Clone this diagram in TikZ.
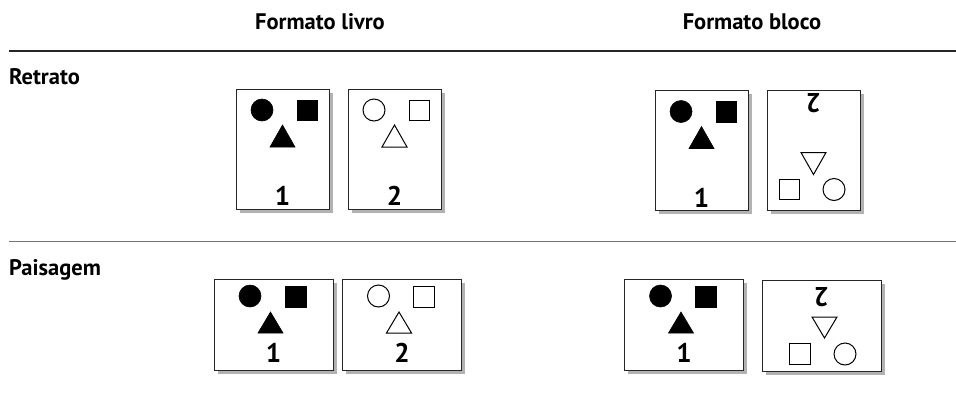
\documentclass[tikz,border=0pt]{standalone}
\usepackage{fontspec}
\setmainfont{PT Sans}
\usetikzlibrary{shadows}
\tikzset{
  pagebox/.style={draw=black!85, line width=0.9pt, fill=white, inner sep=0pt,
    drop shadow={shadow xshift=3.5pt, shadow yshift=-3.5pt, fill=black!30, opacity=1}},
  portrait/.style={pagebox, minimum width=93pt, minimum height=120pt},
  landscape/.style={pagebox, minimum width=119pt, minimum height=91pt},
  hdr/.style={font=\bfseries\fontsize{22.5}{26}\selectfont, inner sep=0pt},
  num/.style={font=\bfseries\fontsize{27}{30}\selectfont, inner sep=0pt},
  solidshape/.style={fill=black, draw=black, line width=0.6pt},
  openshape/.style={draw=black, line width=1pt, fill=white},
}
\newcommand{\portshapes}[2]{%
  \draw[#1] (-20.5,-39) circle[radius=11];
  \draw[#1] (14.5,-49) rectangle (34.5,-28.5);
  \draw[#1] (-12.5,-2) -- (12.5,-2) -- (0,-24) -- cycle;
  \node[num] at (0,47) {#2};
}
\newcommand{\landshapes}[2]{%
  \draw[#1] (-23.5,-28.5) circle[radius=11];
  \draw[#1] (11.5,-38.5) rectangle (32.5,-17.5);
  \draw[#1] (-15.5,8.5) -- (9.5,8.5) -- (-3,-12.5) -- cycle;
  \node[num] at (0,28.5) {#2};
}
\begin{document}
\begin{tikzpicture}[x=1pt,y=-1pt]
\useasboundingbox (0,0) rectangle (956,397);
% headers
\node[hdr] (hlivro) at (320,22) {Formato livro};
\node[hdr] (hbloco) at (752,22) {Formato bloco};
\node[hdr, anchor=west] (retrato) at (9,77) {Retrato};
\node[hdr, anchor=west] (paisagem) at (9,270) {Paisagem};
% rules
\draw[line width=2pt, black!85] (9,51) -- (956,51);
\draw[line width=1.5pt, black!55] (9,241.5) -- (956,241.5);
% portrait pages
\node[portrait] (pl1) at (282.5,149) {};
\node[portrait] (pl2) at (394.5,149) {};
\node[portrait] (pb1) at (701.5,150.5) {};
\node[portrait] (pb2) at (813.5,150.5) {};
% landscape pages
\node[landscape] (ll1) at (273.5,324.5) {};
\node[landscape] (ll2) at (402,324.5) {};
\node[landscape] (lb1) at (684,324.5) {};
\node[landscape] (lb2) at (821.5,325.5) {};
% contents
\begin{scope}[shift={(pl1.center)}]\portshapes{solidshape}{1}\end{scope}
\begin{scope}[shift={(pl2.center)}]\portshapes{openshape}{2}\end{scope}
\begin{scope}[shift={(pb1.center)}]\portshapes{solidshape}{1}\end{scope}
\begin{scope}[shift={(pb2.center)}, rotate=180]\portshapes{openshape}{\rotatebox{180}{2}}\end{scope}
\begin{scope}[shift={(ll1.center)}]\landshapes{solidshape}{1}\end{scope}
\begin{scope}[shift={(ll2.center)}]\landshapes{openshape}{2}\end{scope}
\begin{scope}[shift={(lb1.center)}]\landshapes{solidshape}{1}\end{scope}
\begin{scope}[shift={(lb2.center)}, rotate=180]\landshapes{openshape}{\rotatebox{180}{2}}\end{scope}
\end{tikzpicture}
\end{document}
